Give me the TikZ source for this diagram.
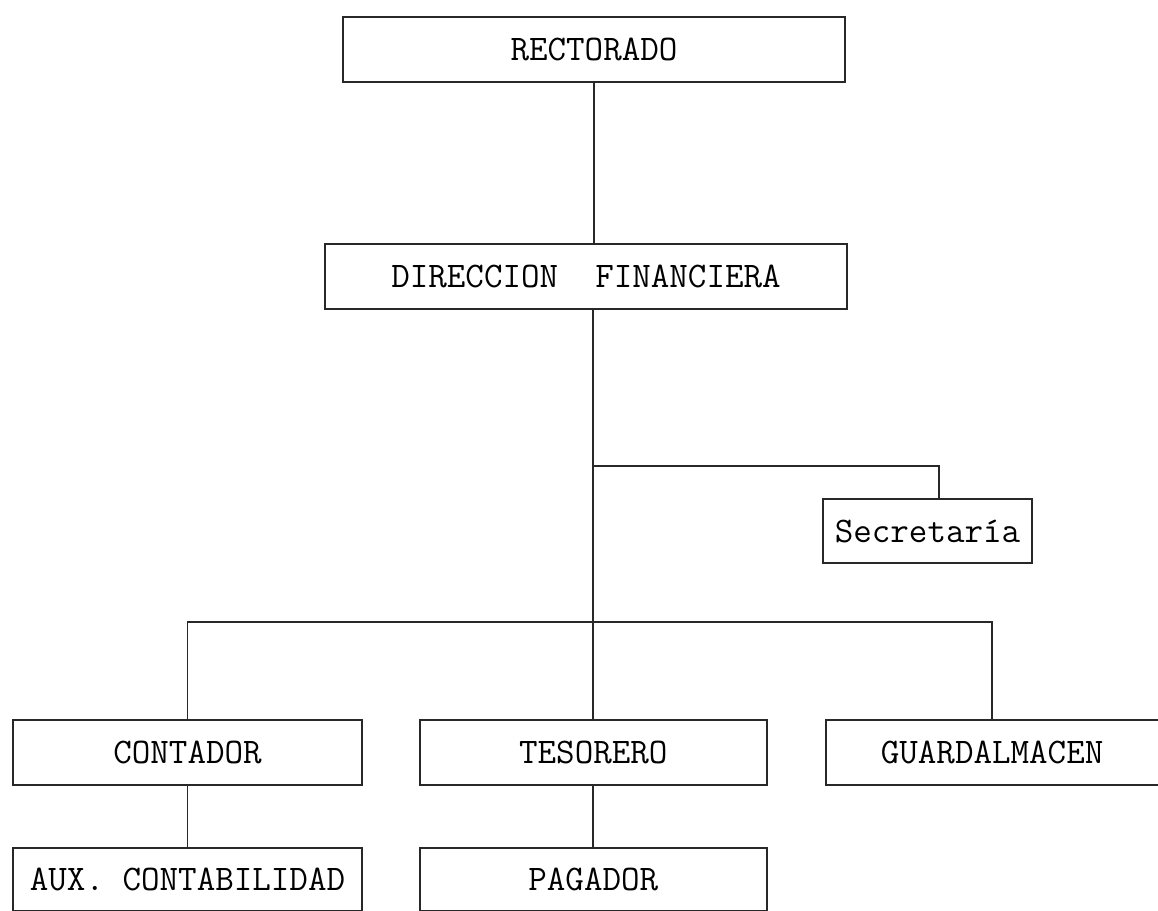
\documentclass[tikz,border=0pt]{standalone}
\usepackage{fontspec}
\usepackage{tikz}
\usetikzlibrary{positioning, calc}
\definecolor{inkgray}{RGB}{40, 40, 40}

\begin{document}
\begin{tikzpicture}[
  x=1pt, y=-1pt,
  unit/.style = {
    draw=inkgray, line width=0.9pt, fill=white,
    minimum height=32.5pt, inner sep=0pt,
    font=\fontsize{18}{20}\selectfont\ttfamily
  },
  link/.style = { line width=0.9pt, draw=inkgray }
]

\useasboundingbox (0,0) rectangle (579,455.5);

\node[unit, minimum width=251pt] (rect) at (297,24.75) {RECTORADO};
\node[unit, minimum width=261pt, below=80pt of rect, xshift=-4pt] (dir) {DIRECCION\ \ FINANCIERA};
\node[unit, minimum width=104.5pt, minimum height=32pt] (sec) at (463.75,265.5) {Secretaría};

\node[unit, minimum width=174.5pt] (cont) at (93.75,376.25) {CONTADOR};
\node[unit, minimum width=173.5pt, right=28pt of cont] (teso) {TESORERO};
\node[unit, minimum width=166.5pt, right=28.5pt of teso] (guard) {GUARDALMACEN};
\node[unit, minimum width=174.5pt, minimum height=31.5pt, below=30.5pt of cont] (aux) {AUX. CONTABILIDAD};
\node[unit, minimum width=173.5pt, minimum height=31.5pt, below=30.5pt of teso] (pag) {PAGADOR};

\coordinate (bra) at ($(teso.north)+(0,126.5pt)$);
\coordinate (bus) at ($(teso.north)+(0,48.5pt)$);

\draw[link] (rect.south) -- (rect.south |- dir.north);
\draw[link] (dir.south -| teso.north) -- (teso.north);
\draw[link] (bra) -| ([xshift=5.75pt]sec.north);
\draw[link] (cont.north) |- (bus) -| (guard.north);
\draw[link] (cont) -- (aux);
\draw[link] (teso) -- (pag);

\end{tikzpicture}
\end{document}
